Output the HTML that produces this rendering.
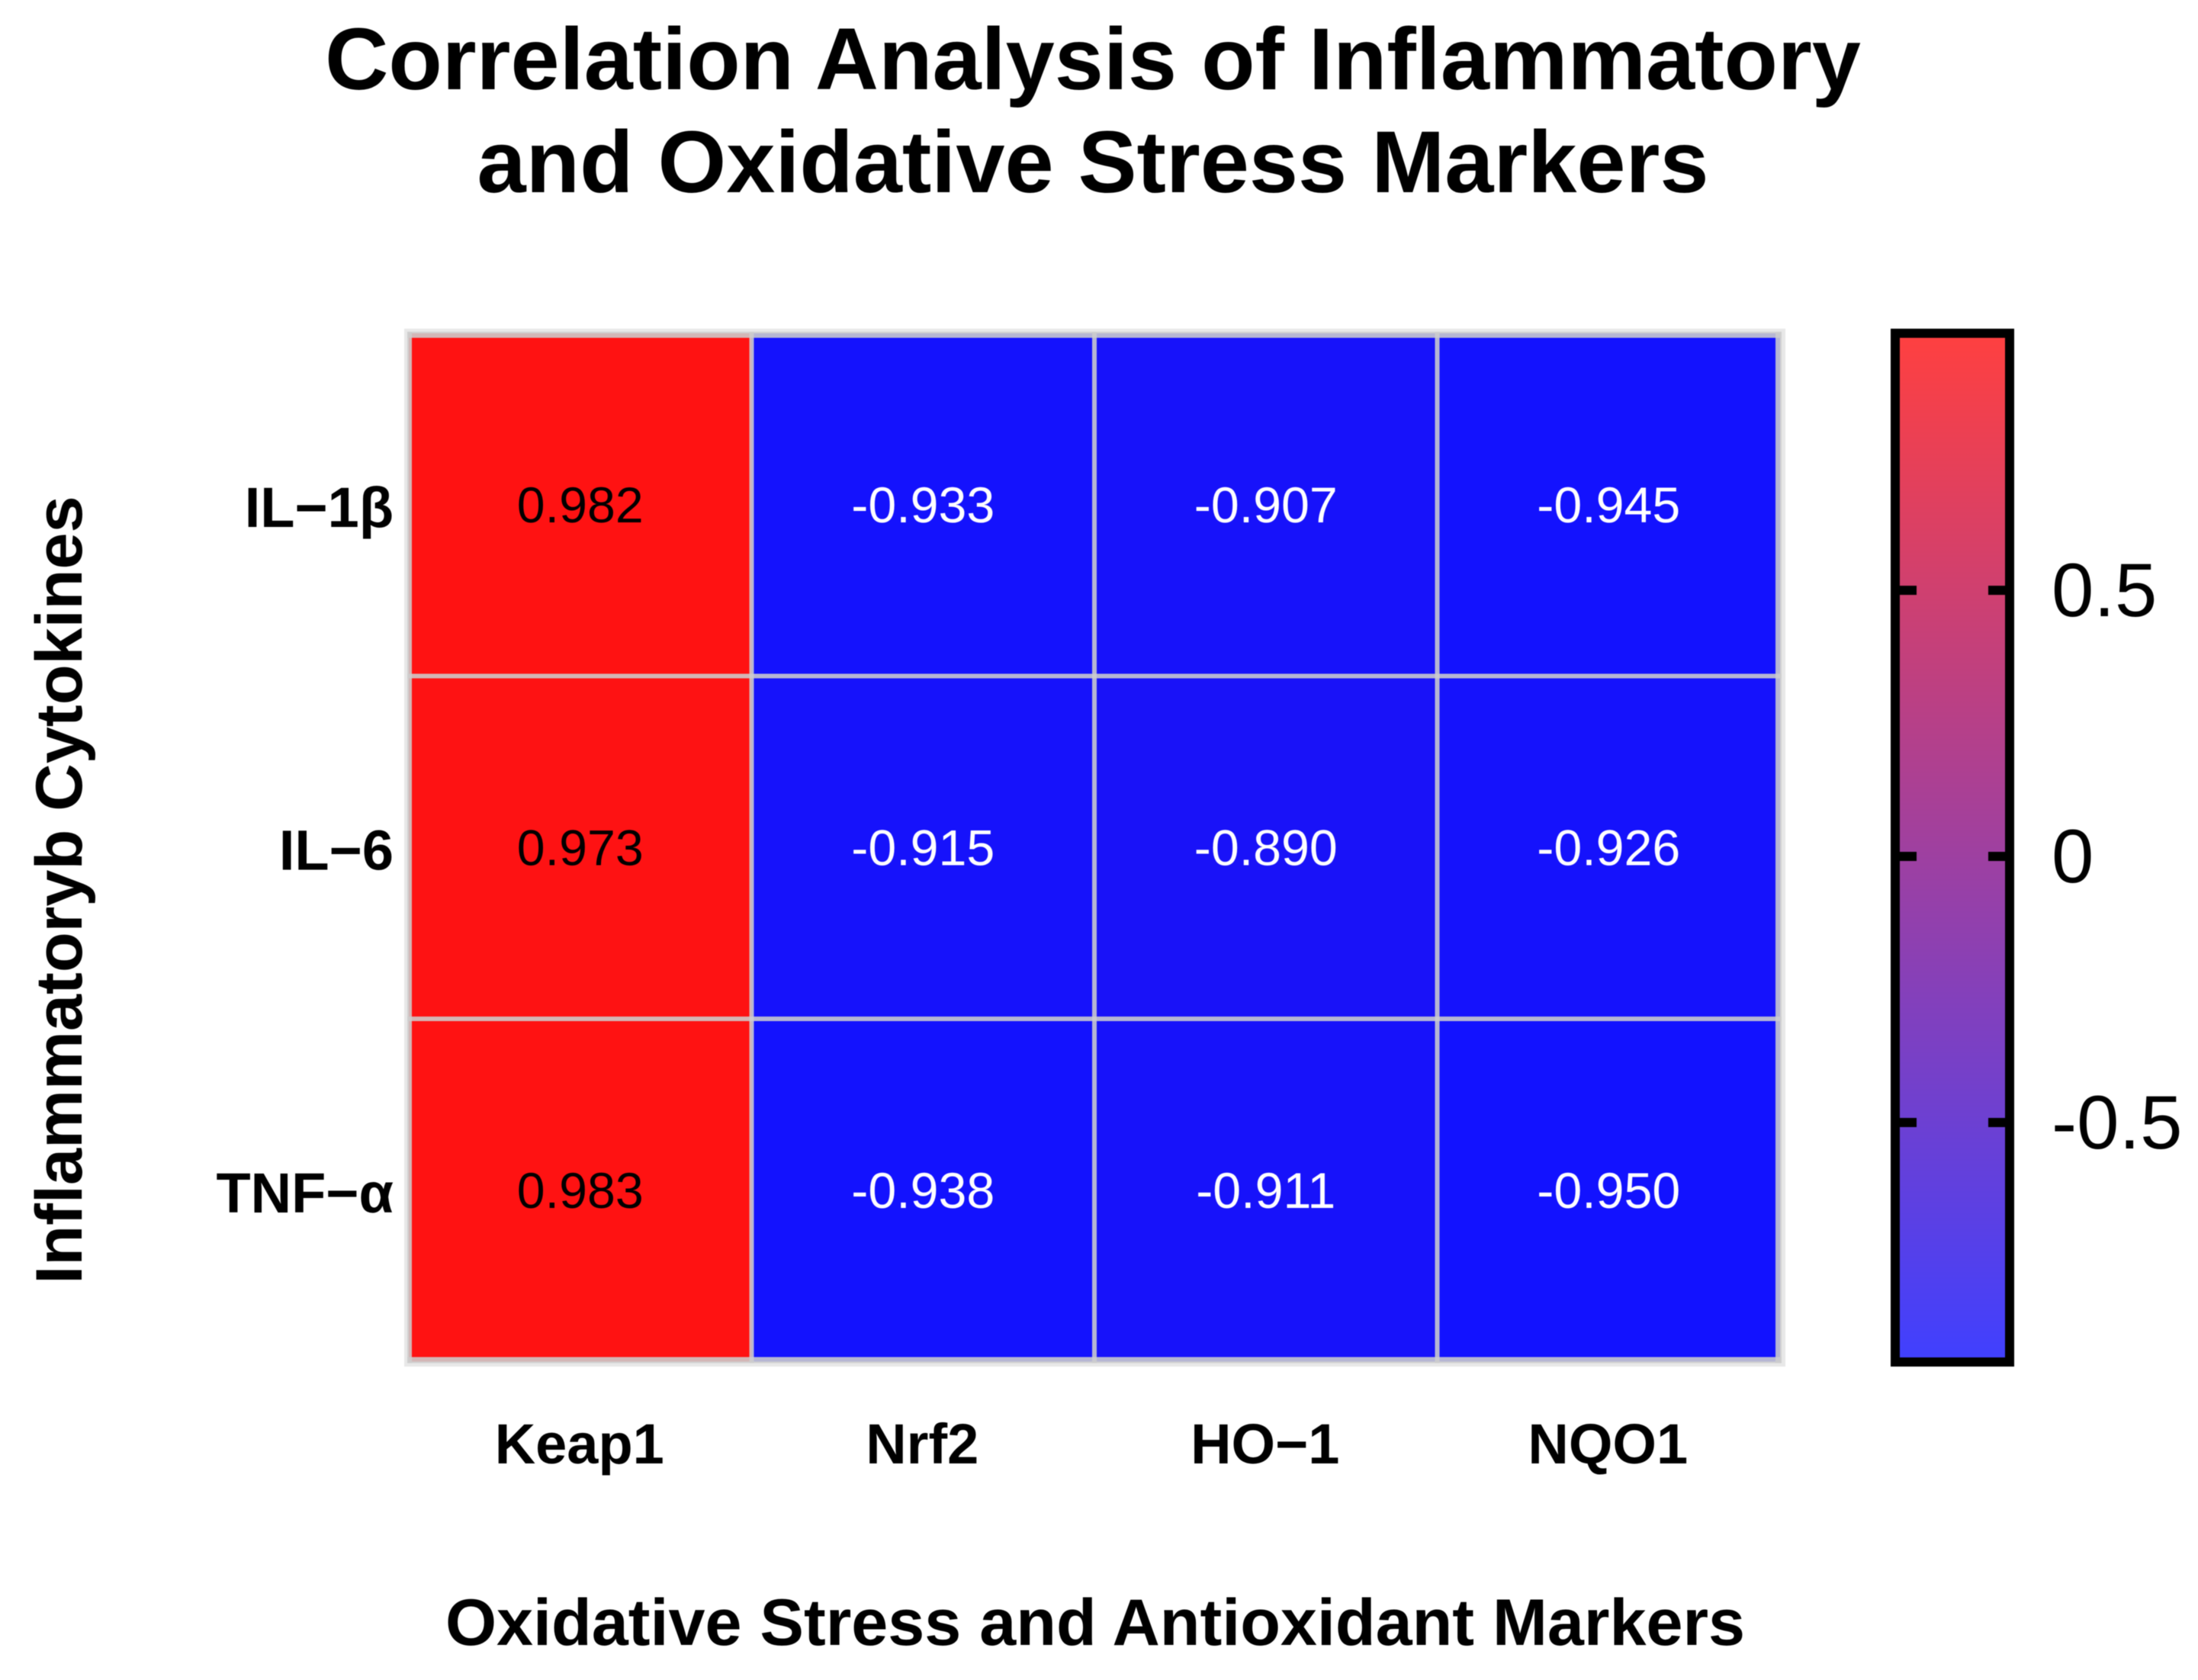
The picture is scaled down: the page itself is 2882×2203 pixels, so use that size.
<!DOCTYPE html>
<html>
<head>
<meta charset="utf-8">
<title>Correlation Analysis of Inflammatory and Oxidative Stress Markers</title>
<style>
html,body{margin:0;padding:0;background:#fff;width:2882px;height:2203px;overflow:hidden}
svg{display:block;filter:blur(0.6px)}
text{font-family:"Liberation Sans",Arial,sans-serif;fill:#000}
.b{font-weight:700}
</style>
</head>
<body>
<svg id="chart" xmlns="http://www.w3.org/2000/svg" width="2882" height="2203" viewBox="0 0 2882 2203">
<rect x="0" y="0" width="2882" height="2203" fill="#fff"/>
<text class="b" x="1433" y="117" font-size="115.3" text-anchor="middle">Correlation Analysis of Inflammatory</text>
<text class="b" x="1433" y="252" font-size="115.3" text-anchor="middle">and Oxidative Stress Markers</text>
<text class="b" x="0" y="0" font-size="86.5" text-anchor="middle" transform="translate(107 1167) rotate(-90)">Inflammatoryb Cytokines</text>
<text class="b" x="1436" y="2157" font-size="86.3" text-anchor="middle">Oxidative Stress and Antioxidant Markers</text>
<defs><linearGradient id="cbGrad" x1="0" y1="0" x2="0" y2="1"></linearGradient></defs>
<rect x="530" y="431" width="1811" height="1361" fill="#e8e8e8"/>
<g id="cells"></g>
<g id="gridlines"></g>
<g id="cellLabels"></g>
<g id="rowLabels"></g>
<g id="colLabels"></g>
<rect id="cbFill" fill="url(#cbGrad)"/>
<g id="cbTicks"></g>
<rect id="cbFrame" fill="none" stroke="#000" stroke-width="12"/>
</svg>
<script>
const rowCategories = ["IL\u22121\u03B2", "IL\u22126", "TNF\u2212\u03B1"];
const colCategories = ["Keap1", "Nrf2", "HO\u22121", "NQO1"];
const rowIL1b = [0.982, -0.933, -0.907, -0.945];
const rowIL6 = [0.973, -0.915, -0.890, -0.926];
const rowTNFa = [0.983, -0.938, -0.911, -0.950];
const colorbarTickValues = [0.5, 0, -0.5];
const colorbarTickLabels = ["0.5", "0", "-0.5"];

const matrix = [rowIL1b, rowIL6, rowTNFa];
const NS = "http://www.w3.org/2000/svg";
const plot = {left: 536, top: 437, cell: 449.5};
const cb = {left: 2485, right: 2635, top: 437, bottom: 1786};
const flat = matrix.reduce(function (a, r) { return a.concat(r); }, []);
const vMin = Math.min.apply(null, flat);
const vMax = Math.max.apply(null, flat);

function xBand(i) { return plot.left + i * plot.cell; }
function yBand(i) { return plot.top + i * plot.cell; }
function norm(v) { return (v - vMin) / (vMax - vMin); }
function ramp(v, floor) {
  const t = norm(v);
  const r = Math.round(floor + (255 - floor) * t);
  const b = Math.round(255 - (255 - floor) * t);
  return "rgb(" + r + "," + floor + "," + b + ")";
}
function cellColor(v) { return ramp(v, 18); }
function barColor(v) { return ramp(v, 64); }
function cbY(v) { return cb.bottom - norm(v) * (cb.bottom - cb.top); }
function mk(tag, attrs, parent, txt) {
  const el = document.createElementNS(NS, tag);
  for (const k in attrs) el.setAttribute(k, attrs[k]);
  if (txt !== undefined) el.textContent = txt;
  parent.appendChild(el);
  return el;
}

const cellsG = document.getElementById("cells");
const gridG = document.getElementById("gridlines");
const cellLabelsG = document.getElementById("cellLabels");
const rowLabelsG = document.getElementById("rowLabels");
const colLabelsG = document.getElementById("colLabels");
const tickG = document.getElementById("cbTicks");

matrix.forEach(function (row, r) {
  row.forEach(function (v, c) {
    const x = xBand(c), y = yBand(r);
    const rect = mk("rect", {x: x, y: y, width: plot.cell, height: plot.cell, fill: cellColor(v)}, cellsG);
    
    
    const label = mk("text", {x: x + plot.cell / 2, y: y + plot.cell / 2 + 23, "font-size": 66.3, "text-anchor": "middle"}, cellLabelsG, v.toFixed(3));
    label.style.fill = norm(v) > 0.5 ? "#000" : "#fff";
    
    
  });
});

const gridW = plot.cell * colCategories.length;
const gridH = plot.cell * rowCategories.length;
for (let c = 0; c <= colCategories.length; c++) {
  const isLeft = c === 0;
  const isRight = c === colCategories.length;
  const lineX = isLeft ? xBand(c) - 2 : isRight ? xBand(c) - 6 : xBand(c) - 3;
  const lineW = isLeft ? 6 : isRight ? 8 : 6;
  const vLine = mk("rect", {x: lineX, y: plot.top - 2, width: lineW, height: gridH + 4, fill: "rgb(205,205,205)", "fill-opacity": 0.88}, gridG);
  
  
}
for (let r = 0; r <= rowCategories.length; r++) {
  const isTop = r === 0;
  const isBottom = r === rowCategories.length;
  const lineY = isTop ? yBand(r) - 2 : isBottom ? yBand(r) - 6 : yBand(r) - 3;
  const lineH = isTop ? 8 : isBottom ? 8 : 6;
  const hLine = mk("rect", {x: plot.left - 2, y: lineY, width: gridW + 4, height: lineH, fill: "rgb(205,205,205)", "fill-opacity": 0.88}, gridG);
  
  
}

rowCategories.forEach(function (name, r) {
  const t = mk("text", {x: 516, y: yBand(r) + plot.cell / 2 + 29, "font-size": 74, "font-weight": 700, "text-anchor": "end"}, rowLabelsG, name);
  
  
});
colCategories.forEach(function (name, c) {
  const t = mk("text", {x: xBand(c) + plot.cell / 2 - 1, y: 1919, "font-size": 74, "font-weight": 700, "text-anchor": "middle"}, colLabelsG, name);
  
  
});

const grad = document.getElementById("cbGrad");
mk("stop", {offset: "0", "stop-color": barColor(vMax)}, grad);
mk("stop", {offset: "1", "stop-color": barColor(vMin)}, grad);
const cbFill = document.getElementById("cbFill");
cbFill.setAttribute("x", cb.left);
cbFill.setAttribute("y", cb.top);
cbFill.setAttribute("width", cb.right - cb.left);
cbFill.setAttribute("height", cb.bottom - cb.top);
const cbFrame = document.getElementById("cbFrame");
cbFrame.setAttribute("x", cb.left);
cbFrame.setAttribute("y", cb.top);
cbFrame.setAttribute("width", cb.right - cb.left);
cbFrame.setAttribute("height", cb.bottom - cb.top);

colorbarTickValues.forEach(function (v, i) {
  const y = cbY(v);
  const left = mk("rect", {x: cb.left, y: y - 6, width: 28, height: 12, fill: "#000"}, tickG);
  
  
  const right = mk("rect", {x: cb.right - 28, y: y - 6, width: 28, height: 12, fill: "#000"}, tickG);
  
  
  const label = mk("text", {x: 2690, y: y + 34, "font-size": 99.5}, tickG, colorbarTickLabels[i]);
  
  
});
</script>
</body>
</html>
